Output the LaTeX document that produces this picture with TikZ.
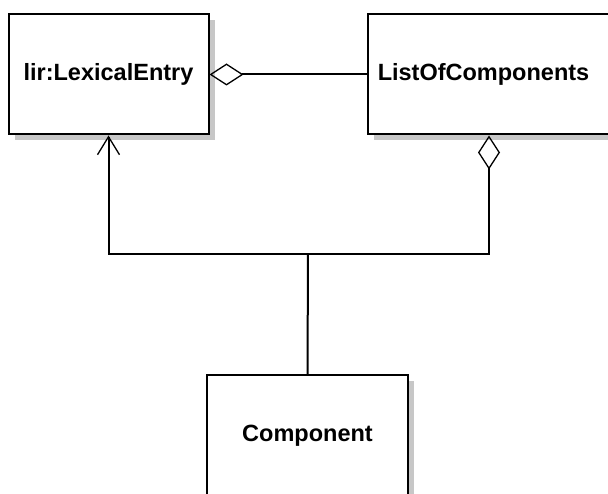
\documentclass[tikz,border=0pt]{standalone}
\usepackage{fontspec}
\setmainfont{Liberation Sans}
\usetikzlibrary{arrows.meta,shadows}
\begin{document}
\begin{tikzpicture}[x=1pt,y=-1pt,
  umlbox/.style={draw=black, line width=2pt, fill=white, inner sep=0pt,
    font=\fontsize{23.5}{28}\selectfont\bfseries,
    drop shadow={shadow xshift=6pt, shadow yshift=-6pt, fill=black!22, opacity=1}},
  conn/.style={line width=2pt, draw=black},
  aggr/.style={-{Diamond[open, length=34pt, width=22pt, line width=1.3pt]}},
  gen/.style={-{Straight Barb[length=18pt, width=22pt, line width=1.3pt]}}]
\useasboundingbox (0,0) rectangle (608,494);
\clip (0,0) rectangle (608,494);
\node[umlbox, minimum width=200pt, minimum height=120pt] (lex) at (108.5,74.5) {lir:LexicalEntry};
\node[umlbox, minimum width=242pt, minimum height=120pt] (list) at (489,74.5) {\hspace*{-11pt}ListOfComponents};
\node[umlbox, minimum width=201pt, minimum height=120pt] (comp) at (307.5,435.5) {Component};
\coordinate (j) at (308,254);
\draw[conn, aggr] (list.west) -- (lex.east);
\draw[conn] (comp.north) -- (j);
\draw[conn, gen] (j) -| (lex.south);
\draw[conn, aggr] (j) -| (list.south);
\end{tikzpicture}
\end{document}
